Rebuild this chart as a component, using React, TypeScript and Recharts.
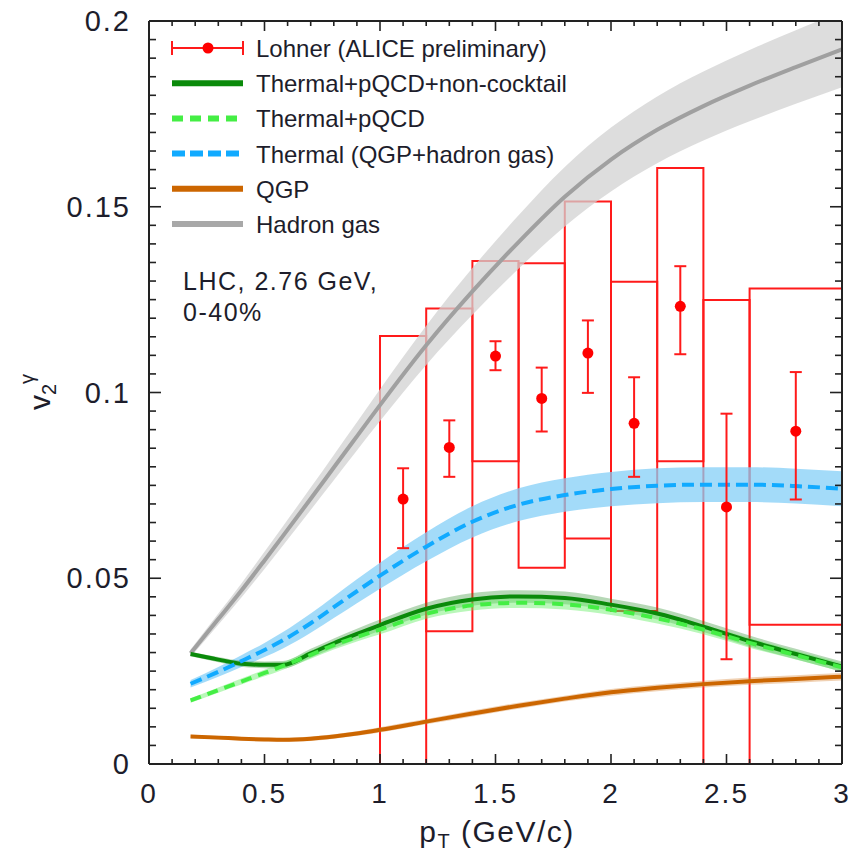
import React from "react";
import {
	Area,
	ComposedChart,
	ErrorBar,
	Line,
	ReferenceArea,
	Scatter,
	XAxis,
	YAxis,
} from "recharts";

// model curves, all on one pT grid
const pGrid = [0.18, 0.3, 0.4, 0.5, 0.58, 0.7, 0.8, 0.9, 1.0, 1.2, 1.4, 1.6, 1.8, 2.0, 2.2, 2.4, 2.6, 2.8, 3.0];

const hadronGas = [0.0298, 0.039, 0.0467, 0.0548, 0.0614, 0.0714, 0.0798, 0.0882, 0.0966, 0.1127, 0.1272, 0.1405, 0.1527, 0.1627, 0.1707, 0.1771, 0.1826, 0.1876, 0.1924];
const hadronGasErr = [0.001, 0.0015, 0.0019, 0.0023, 0.0026, 0.003, 0.0034, 0.0038, 0.0043, 0.0053, 0.0063, 0.0072, 0.008, 0.0086, 0.009, 0.0093, 0.0096, 0.0099, 0.0102];

const thermal = [0.0216, 0.0248, 0.0277, 0.0307, 0.0333, 0.0379, 0.0422, 0.0465, 0.0507, 0.0585, 0.0652, 0.0698, 0.0724, 0.074, 0.0749, 0.0752, 0.0752, 0.0748, 0.0741];
const thermalErr = [0.001, 0.0013, 0.0016, 0.0019, 0.0022, 0.0026, 0.0029, 0.0032, 0.0035, 0.0039, 0.0042, 0.0044, 0.0045, 0.0046, 0.0047, 0.0047, 0.0047, 0.0047, 0.0047];

const thermalPqcd = [0.0171, 0.0199, 0.0222, 0.0245, 0.0264, 0.0294, 0.032, 0.0342, 0.0362, 0.0404, 0.0427, 0.0434, 0.043, 0.0415, 0.0392, 0.0362, 0.0326, 0.0293, 0.026];
const thermalPqcdErr = [0.0006, 0.0007, 0.0008, 0.0009, 0.001, 0.0011, 0.0012, 0.0012, 0.0013, 0.0013, 0.0014, 0.0014, 0.0014, 0.0014, 0.0014, 0.0013, 0.0013, 0.0012, 0.0012];

const nonCocktail = [0.0296, 0.0281, 0.027, 0.0267, 0.0267, 0.0298, 0.0325, 0.035, 0.0374, 0.0418, 0.0443, 0.0451, 0.0447, 0.0429, 0.0405, 0.037, 0.0331, 0.0296, 0.0262];
const nonCocktailErr = [0.0006, 0.0007, 0.0008, 0.0009, 0.001, 0.0012, 0.0013, 0.0014, 0.0015, 0.0016, 0.0017, 0.0017, 0.0017, 0.0016, 0.0016, 0.0015, 0.0015, 0.0014, 0.0014];

const qgp = [0.0074, 0.0071, 0.0068, 0.0066, 0.0065, 0.0068, 0.0074, 0.0082, 0.0092, 0.0114, 0.0136, 0.0157, 0.0176, 0.0193, 0.0205, 0.0215, 0.0223, 0.0229, 0.0235];
const qgpErr = [0.0005, 0.0005, 0.0005, 0.0005, 0.0005, 0.0006, 0.0006, 0.0006, 0.0007, 0.0007, 0.0008, 0.0008, 0.0008, 0.0009, 0.0009, 0.0009, 0.001, 0.001, 0.001];

// ALICE preliminary points (stat. errors as low / high ends)
const dataP = [1.1, 1.3, 1.5, 1.7, 1.9, 2.1, 2.3, 2.5, 2.8];
const dataV = [0.0713, 0.0852, 0.1098, 0.0984, 0.1106, 0.0917, 0.1232, 0.0692, 0.0896];
const statLow = [0.0581, 0.0773, 0.106, 0.0895, 0.0999, 0.0773, 0.1103, 0.0282, 0.0712];
const statHigh = [0.0796, 0.0925, 0.1138, 0.1067, 0.1194, 0.1041, 0.134, 0.0943, 0.1055];

// systematic boxes
const sysLeft = [1.0, 1.2, 1.4, 1.6, 1.8, 2.0, 2.2, 2.4, 2.6];
const sysRight = [1.2, 1.4, 1.6, 1.8, 2.0, 2.2, 2.4, 2.6, 3.0];
const sysLow = [-0.01, 0.0357, 0.0815, 0.0528, 0.0607, 0.0412, 0.0815, -0.01, 0.0375];
const sysHigh = [0.1152, 0.1226, 0.1354, 0.1348, 0.1514, 0.1298, 0.1604, 0.1249, 0.128];

const xMajor = [0, 0.5, 1, 1.5, 2, 2.5, 3];
const xLabels = ["0", "0.5", "1", "1.5", "2", "2.5", "3"];
const yMajor = [0, 0.05, 0.1, 0.15, 0.2];
const yLabels = ["0", "0.05", "0.1", "0.15", "0.2"];
const xTicks = Array.from({ length: 31 }, (_, i) => i / 10);
const yTicks = Array.from({ length: 41 }, (_, i) => i / 200);

const legendNames = [
	"Lohner (ALICE preliminary)",
	"Thermal+pQCD+non-cocktail",
	"Thermal+pQCD",
	"Thermal (QGP+hadron gas)",
	"QGP",
	"Hadron gas",
];

const band = (v: number[], e: number[], i: number) => [v[i] - e[i], v[i] + e[i]];

const curves = pGrid.map((p, i) => ({
	p,
	hg: hadronGas[i],
	hgBand: band(hadronGas, hadronGasErr, i),
	th: thermal[i],
	thBand: band(thermal, thermalErr, i),
	tp: thermalPqcd[i],
	tpBand: band(thermalPqcd, thermalPqcdErr, i),
	nc: nonCocktail[i],
	ncBand: band(nonCocktail, nonCocktailErr, i),
	qgp: qgp[i],
	qgpBand: band(qgp, qgpErr, i),
}));

const points = dataP.map((p, i) => ({
	p,
	v: dataV[i],
	err: [dataV[i] - statLow[i], statHigh[i] - dataV[i]],
}));

const FONT = "'Liberation Sans', Arial, sans-serif";
const INK = "#1d1d2b";
const AX = "#222";

const labelOf = (v: number, major: number[], labels: string[]) => {
	const k = major.findIndex((m) => Math.abs(m - v) < 1e-9);
	return k >= 0 ? labels[k] : null;
};

const BottomTick = (props: any) => {
	const { x, y, payload } = props;
	const lab = labelOf(payload.value, xMajor, xLabels);
	return (
		<g>
			<line x1={x} y1={y} x2={x} y2={y - (lab ? 10 : 5)} stroke={AX} strokeWidth={1.6} />
			{lab && (
				<text x={x} y={y + 39} textAnchor="middle" fontSize={28} fontFamily={FONT} fill={INK} letterSpacing={2}>
					{lab}
				</text>
			)}
		</g>
	);
};

const TopTick = (props: any) => {
	const { x, y, payload } = props;
	const lab = labelOf(payload.value, xMajor, xLabels);
	return <line x1={x} y1={y} x2={x} y2={y + (lab ? 10 : 5)} stroke={AX} strokeWidth={1.6} />;
};

const LeftTick = (props: any) => {
	const { x, y, payload } = props;
	const lab = labelOf(payload.value, yMajor, yLabels);
	return (
		<g>
			<line x1={x} y1={y} x2={x + (lab ? 12 : 7)} y2={y} stroke={AX} strokeWidth={1.6} />
			{lab && (
				<text x={x - 18} y={y + 10} textAnchor="end" fontSize={29} fontFamily={FONT} fill={INK} letterSpacing={2}>
					{lab}
				</text>
			)}
		</g>
	);
};

const RightTick = (props: any) => {
	const { x, y, payload } = props;
	const lab = labelOf(payload.value, yMajor, yLabels);
	return <line x1={x} y1={y} x2={x - (lab ? 12 : 7)} y2={y} stroke={AX} strokeWidth={1.6} />;
};

const Dot = (props: any) => <circle cx={props.cx} cy={props.cy} r={5.5} fill="#ff0000" />;

const LegendSymbol = ({ i, y }: { i: number; y: number }) => {
	const x1 = 172;
	const x2 = 243;
	if (i === 0)
		return (
			<g stroke="#ff1a1a" strokeWidth={2}>
				<line x1={x1} y1={y} x2={x2} y2={y} />
				<line x1={x1} y1={y - 7} x2={x1} y2={y + 7} />
				<line x1={x2} y1={y - 7} x2={x2} y2={y + 7} />
				<circle cx={208} cy={y} r={5.5} fill="#ff0000" stroke="none" />
			</g>
		);
	const styles = [
		null,
		{ c: "#0a8a0a", d: undefined },
		{ c: "#44ee44", d: "11 7" },
		{ c: "#11aaff", d: "13 5" },
		{ c: "#cc6600", d: undefined },
		{ c: "#a8a8a8", d: undefined },
	];
	const s = styles[i]!;
	return <line x1={x1} y1={y} x2={x2} y2={y} stroke={s.c} strokeWidth={6} strokeDasharray={s.d} />;
};

const Overlay = () => (
	<svg width={860} height={854} style={{ position: "absolute", left: 0, top: 0, pointerEvents: "none" }}>
		{legendNames.map((name, i) => {
			const y = 48 + i * 35.2;
			return (
				<g key={name}>
					<LegendSymbol i={i} y={y} />
					<text x={256} y={y + 9} fontSize={24} fontFamily={FONT} fill={INK}>
						{name}
					</text>
				</g>
			);
		})}
		<text x={183} y={290} fontSize={25} fontFamily={FONT} fill={INK} letterSpacing={1.5}>
			LHC, 2.76 GeV,
		</text>
		<text x={183} y={321} fontSize={25} fontFamily={FONT} fill={INK} letterSpacing={1.5}>
			0-40%
		</text>
		<text x={497} y={842} textAnchor="middle" fontSize={30} fontFamily={FONT} fill={INK} letterSpacing={1.5}>
			p<tspan fontSize={20} dy={6}>T</tspan>
			<tspan dy={-6}> (GeV/c)</tspan>
		</text>
		<g transform="translate(50 392) rotate(-90)">
			<text x={0} y={0} textAnchor="middle" fontSize={30} fontFamily={FONT} fill={INK}>
				v<tspan fontSize={20} dy={6}>2</tspan>
				<tspan fontSize={20} dy={-22}>γ</tspan>
			</text>
		</g>
	</svg>
);

const App = () => {
	return (
		<div style={{ position: "absolute", left: 0, top: 0, width: 860, height: 854, background: "#fff" }}>
			<ComposedChart
				width={860}
				height={854}
				data={curves}
				margin={{ top: 20, right: 17, bottom: 30, left: 49 }}
			>
				<XAxis
					dataKey="p"
					type="number"
					domain={[0, 3]}
					allowDataOverflow
					ticks={xTicks}
					interval={0}
					tickSize={0}
					tickMargin={0}
					tickLine={false}
					tick={BottomTick}
					height={60}
					axisLine={{ stroke: AX, strokeWidth: 2 }}
				/>
				<XAxis
					xAxisId="top"
					orientation="top"
					dataKey="p"
					type="number"
					domain={[0, 3]}
					allowDataOverflow
					ticks={xTicks}
					interval={0}
					tickSize={0}
					tickMargin={0}
					tickLine={false}
					tick={TopTick}
					height={1}
					axisLine={{ stroke: AX, strokeWidth: 2 }}
				/>
				<YAxis
					type="number"
					domain={[0, 0.2]}
					allowDataOverflow
					ticks={yTicks}
					interval={0}
					tickSize={0}
					tickMargin={0}
					tickLine={false}
					tick={LeftTick}
					width={100}
					axisLine={{ stroke: AX, strokeWidth: 2 }}
				/>
				<YAxis
					yAxisId="right"
					orientation="right"
					type="number"
					domain={[0, 0.2]}
					allowDataOverflow
					ticks={yTicks}
					interval={0}
					tickSize={0}
					tickMargin={0}
					tickLine={false}
					tick={RightTick}
					width={1}
					axisLine={{ stroke: AX, strokeWidth: 2 }}
				/>

				{sysLeft.map((x1, i) => (
					<ReferenceArea
						key={"sys" + i}
						x1={x1}
						x2={sysRight[i]}
						y1={sysLow[i]}
						y2={sysHigh[i]}
						fill="none"
						fillOpacity={0}
						stroke="#ff1a1a"
						strokeWidth={2}
						strokeOpacity={1}
						ifOverflow="hidden"
					/>
				))}

				<Area dataKey="hgBand" type="monotone" stroke="none" fill="#d2d2d2" fillOpacity={0.75} isAnimationActive={false} />
				<Area dataKey="thBand" type="monotone" stroke="none" fill="#84cff7" fillOpacity={0.75} isAnimationActive={false} />
				<Area dataKey="ncBand" type="monotone" stroke="none" fill="#2f8f2f" fillOpacity={0.35} isAnimationActive={false} />
				<Area dataKey="tpBand" type="monotone" stroke="none" fill="#66ee66" fillOpacity={0.45} isAnimationActive={false} />
				<Area dataKey="qgpBand" type="monotone" stroke="none" fill="#d98c40" fillOpacity={0.4} isAnimationActive={false} />

				<Line dataKey="hg" type="monotone" stroke="#a0a0a0" strokeWidth={4} dot={false} isAnimationActive={false} />
				<Line dataKey="nc" type="monotone" stroke="#0a8a0a" strokeWidth={4} dot={false} isAnimationActive={false} />
				<Line dataKey="tp" type="monotone" stroke="#44ee44" strokeWidth={4} strokeDasharray="11 7" dot={false} isAnimationActive={false} />
				<Line dataKey="th" type="monotone" stroke="#11aaff" strokeWidth={4} strokeDasharray="12 6" dot={false} isAnimationActive={false} />
				<Line dataKey="qgp" type="monotone" stroke="#cc6600" strokeWidth={4} dot={false} isAnimationActive={false} />

				<Scatter data={points} dataKey="v" shape={Dot} isAnimationActive={false}>
					<ErrorBar dataKey="err" direction="y" stroke="#ff1a1a" strokeWidth={2} width={6} isAnimationActive={false} />
				</Scatter>
			</ComposedChart>
			<Overlay />
		</div>
	);
};

export default App;
